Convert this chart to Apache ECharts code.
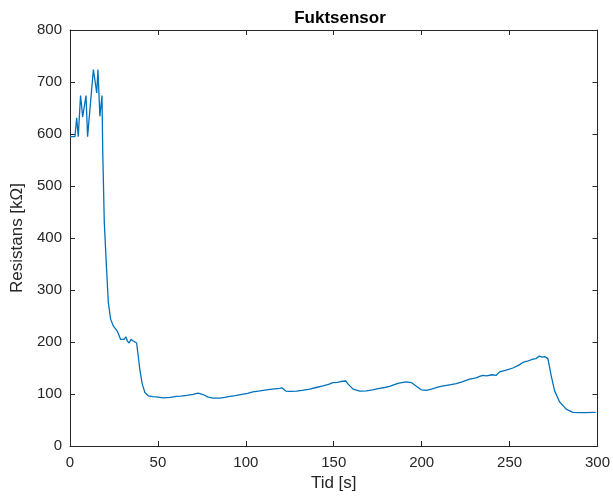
<!DOCTYPE html>
<html>
<head>
<meta charset="utf-8">
<script src="https://cdn.jsdelivr.net/npm/echarts@6/dist/echarts.min.js"></script>
<style>
  html, body { margin: 0; padding: 0; background: #fff; }
  #chart { width: 613px; height: 497px; }
</style>
</head>
<body>
<div id="chart"></div>
<script>
// Sensor log: time [s] and resistance [kΩ]
const tid = [
  0, 2.8, 3.8, 4.7, 6, 7.2, 8, 9.1, 10, 13.3, 14, 15.2, 15.9, 17, 18.2, 18.6,
  19.5, 20.8, 21.8, 23.1, 24.6, 26.9, 28, 28.8, 30.7, 31.8, 32.6, 33.7, 34.7,
  36, 37.1, 37.9, 38.8, 39.8, 41.1, 42.6, 44.5, 47, 49.2, 53, 57, 60.6, 63,
  66.3, 70, 72.9, 75.7, 78.6, 81.4, 85.2, 88, 90.9, 94, 98.5, 101, 104, 108,
  111.7, 115, 119.3, 120.5, 122.7, 125, 128.8, 132, 136.4, 140, 143.9, 147,
  149.6, 152, 154, 156.8, 158.2, 161, 164.8, 168.6, 172, 176, 179, 181.8,
  184.5, 187, 191.3, 194.1, 197, 199.8, 202.7, 206, 210.2, 215, 219.7, 223,
  227.3, 231, 233, 234.8, 237, 240, 242.4, 244.3, 248, 251.9, 255, 257.6,
  260, 263.3, 265, 267, 268.5, 270, 271.8, 273.7, 275.6, 278.4, 282.2, 286,
  290, 293.6, 297.3, 299
];
const resistans = [
  595, 595, 631, 595, 674, 633, 633, 674, 595, 724, 724, 679, 724, 634, 674, 570,
  430, 340, 276, 244, 231, 221, 218, 205, 205, 210, 202, 198, 205,
  202, 204, 198, 173, 145, 119, 103, 96.5, 95, 94.6, 92.7, 93.5, 95.3, 96,
  97.3, 99.2, 101.7, 99, 94, 92, 92, 93.5, 95.3, 97, 99.8, 101, 104, 106,
  108, 109.5, 111, 112, 105.6, 105, 105.6, 107, 109.4, 112.5, 115.7, 118.5,
  122, 122.5, 124, 125, 119, 109.4, 105.6, 106, 108, 110.7, 112.5, 114.6,
  118, 121, 123.4, 122, 115, 108, 107, 110, 114, 117, 120, 123.5,
  128.6, 131, 133.8, 136, 135, 137, 136, 142.6, 146, 150, 155, 160.6,
  163, 167, 168, 173, 171, 172, 168, 135, 106, 85, 71, 64.6,
  64, 64, 64.6, 64.6
];

const xTicks = { min: 0, max: 300, interval: 50 };
const yTicks = { min: 0, max: 800, interval: 100 };

const axisColor = '#262626';
const fontFamily = 'Liberation Sans, Arial, sans-serif';

const points = tid.map((t, i) => [t, resistans[i]]);

const chart = echarts.init(document.getElementById('chart'), null, { renderer: 'canvas' });

const baseAxis = {
  type: 'value',
  axisLine: { show: true, onZero: false, lineStyle: { color: axisColor, width: 1 } },
  axisTick: { show: true, inside: true, length: 5, lineStyle: { color: axisColor, width: 1 } },
  splitLine: { show: false },
  axisLabel: { color: axisColor, fontSize: 15, fontFamily: fontFamily }
};

chart.setOption({
  animation: false,
  backgroundColor: '#ffffff',
  title: {
    text: 'Fuktsensor',
    left: 335,
    top: 5,
    textAlign: 'center',
    textStyle: { color: '#000', fontSize: 17, fontWeight: 'bold', fontFamily: fontFamily }
  },
  grid: { left: 70, right: 15, top: 30, bottom: 50, containLabel: false },
  xAxis: [
    Object.assign({}, baseAxis, {
      position: 'bottom',
      min: xTicks.min, max: xTicks.max, interval: xTicks.interval,
      name: 'Tid [s]',
      nameLocation: 'middle',
      nameGap: 29,
      nameTextStyle: { color: axisColor, fontSize: 17, fontFamily: fontFamily },
      axisLabel: Object.assign({}, baseAxis.axisLabel, { margin: 9 })
    }),
    Object.assign({}, baseAxis, {
      position: 'top',
      min: xTicks.min, max: xTicks.max, interval: xTicks.interval,
      axisLabel: { show: false }
    })
  ],
  yAxis: [
    Object.assign({}, baseAxis, {
      position: 'left',
      min: yTicks.min, max: yTicks.max, interval: yTicks.interval,
      name: 'Resistans [kΩ]',
      nameLocation: 'middle',
      nameRotate: 90,
      nameGap: 41,
      nameTextStyle: { color: axisColor, fontSize: 17, fontFamily: fontFamily },
      axisLabel: Object.assign({}, baseAxis.axisLabel, { margin: 8 })
    }),
    Object.assign({}, baseAxis, {
      position: 'right',
      min: yTicks.min, max: yTicks.max, interval: yTicks.interval,
      axisLabel: { show: false }
    })
  ],
  series: [{
    type: 'line',
    xAxisIndex: 0,
    yAxisIndex: 0,
    data: points,
    showSymbol: false,
    symbol: 'none',
    lineStyle: { color: '#0072BD', width: 1.3 },
    z: 1
  }]
});
</script>
</body>
</html>
